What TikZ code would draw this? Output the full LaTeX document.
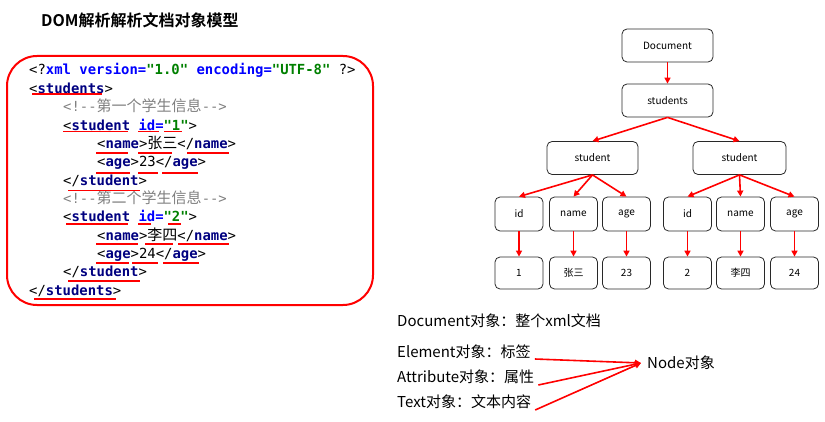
\documentclass[tikz,border=0pt]{standalone}
\usepackage{fontspec}
\setmainfont{Noto Sans CJK SC}[BoldFont={* Bold}]
\setmonofont{DejaVu Sans Mono}
\newfontfamily\codecjk{Noto Sans CJK SC}[Scale=1.08]
\usetikzlibrary{arrows.meta}

\definecolor{tagnavy}{RGB}{0,0,128}
\definecolor{attrblue}{RGB}{0,0,255}
\definecolor{valgreen}{RGB}{0,128,0}
\definecolor{cmtgray}{RGB}{128,128,128}
\definecolor{boxgray}{RGB}{40,40,40}

\newcommand\tg[1]{\textcolor{tagnavy}{\textbf{#1}}}
\newcommand\at[1]{\textcolor{attrblue}{\textbf{#1}}}
\newcommand\vl[1]{\textcolor{valgreen}{\textbf{#1}}}

\begin{document}
\begin{tikzpicture}[x=1pt,y=-1pt,>={Triangle[length=6pt,width=6pt]}]
\tikzset{
  codeline/.style={anchor=base west, inner sep=0pt, font=\ttfamily\fontsize{13.9}{16}\selectfont},
  redbox/.style={draw=red, line width=2pt, rounded corners=30pt},
  uline/.style={draw=red, line width=1.8pt},
  treebox/.style={draw=boxgray, line width=.8pt, rounded corners=5pt, minimum width=91pt, minimum height=33pt, inner sep=0pt, font=\fontsize{10}{12}\selectfont},
  leafbox/.style={treebox, minimum width=48pt, minimum height=34pt},
  valbox/.style={treebox, minimum width=48pt, minimum height=32pt},
  link/.style={->, draw=red, line width=1.6pt},
  note/.style={anchor=west, inner sep=0pt, font=\fontsize{15}{18}\selectfont}
}
\useasboundingbox (0,0) rectangle (825,422);

% title
\node[anchor=west, inner sep=0pt, font=\bfseries\fontsize{16}{19}\selectfont] (title) at (41,20) {DOM解析解析文档对象模型};

% xml source
\draw[redbox] (7,56) rectangle (373,305);
\node[codeline] (l1) at (29,75) {<?\at{xml version=}\vl{"1.0"}\at{ encoding=}\vl{"UTF-8"} ?>};
\node[codeline] (l2) at (29,93.35) {<\tg{students}>};
\node[codeline,cmtgray] (l3) at (63,111.7) {<!--{\codecjk 第一个学生信息}-->};
\node[codeline] (l4) at (63,130.05) {<\tg{student}\at{ id=}\vl{"1"}>};
\node[codeline] (l5) at (97,148.4) {<\tg{name}>{\codecjk 张三}</\tg{name}>};
\node[codeline] (l6) at (97,166.75) {<\tg{age}>23</\tg{age}>};
\node[codeline] (l7) at (63,185.1) {</\tg{student}>};
\node[codeline,cmtgray] (l8) at (63,203.45) {<!--{\codecjk 第二个学生信息}-->};
\node[codeline] (l9) at (63,221.8) {<\tg{student}\at{ id=}\vl{"2"}>};
\node[codeline] (l10) at (97,240.15) {<\tg{name}>{\codecjk 李四}</\tg{name}>};
\node[codeline] (l11) at (97,258.5) {<\tg{age}>24</\tg{age}>};
\node[codeline] (l12) at (63,276.85) {</\tg{student}>};
\node[codeline] (l13) at (29,295.2) {</\tg{students}>};

% hand-drawn underlines
\foreach \a/\b/\y in {32/102/94, 63/128/131.5, 138/159/131.5, 164/182/131.5,
    96/128/153, 138/172/153, 187/229/153, 96/130/173, 138/158/173, 162/198/173,
    68/140/190.5, 66/128/224, 138/151/224, 168/181/224, 96/138/244, 145/173/244, 178/229/244,
    96/129/263, 132/158/263, 163/199/263, 68/140/281, 34/116/299}
  \draw[uline] (\a,\y) -- (\b,\y);

% dom tree
\node[treebox] (doc) at (667.5,45.5) {Document};
\node[treebox] (sts) at (667.5,100.5) {students};
\node[treebox] (stuA) at (592.5,158) {student};
\node[treebox, minimum width=93pt] (stuB) at (739.5,158) {student};

\node[leafbox] (idA) at (519,214) {id};
\node[leafbox] (nameA) at (573.5,214) {name};
\node[leafbox] (ageA) at (626.5,214) {age};
\node[leafbox] (idB) at (687.5,214) {id};
\node[leafbox] (nameB) at (740.5,214) {name};
\node[leafbox] (ageB) at (794.5,214) {age};

\node[valbox] (vidA) at (519,273) {1};
\node[valbox] (vnameA) at (573.5,273) {张三};
\node[valbox] (vageA) at (626.5,273) {23};
\node[valbox] (vidB) at (687.5,273) {2};
\node[valbox] (vnameB) at (740.5,273) {李四};
\node[valbox] (vageB) at (794.5,273) {24};

\draw[link] (doc.south) -- (sts.north);
\draw[link] (sts.south) -- (stuA.north);
\draw[link] (sts.south) -- (stuB.north);
\foreach \s in {A,B} {
  \foreach \k in {id,name,age} {
    \draw[link] (stu\s.south) -- (\k\s.north);
    \draw[link] (\k\s.south) -- (v\k\s.north);
  }
}

% node types
\node[note] (docobj) at (397,321) {Document对象：整个xml文档};
\node[note] (elemobj) at (397,352) {Element对象：标签};
\node[note] (attrobj) at (397,377) {Attribute对象：属性};
\node[note] (textobj) at (397,402) {Text对象：文本内容};
\node[note] (nodeobj) at (647,363) {Node对象};

\draw[link] ([xshift=4pt,yshift=-7pt]elemobj.east) -- ([xshift=-6pt]nodeobj.west);
\draw[link] ([xshift=4pt,yshift=-8pt]attrobj.east) -- ([xshift=-6pt]nodeobj.west);
\draw[link] ([xshift=4pt,yshift=-8pt]textobj.east) -- ([xshift=-6pt]nodeobj.west);
\end{tikzpicture}
\end{document}
